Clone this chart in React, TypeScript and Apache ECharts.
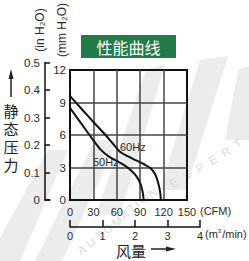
import React, { useEffect, useRef } from "react";
import * as echarts from "echarts";

// ---- data ----
const cfmMin = 0;
const cfmMax = 150;
const cfmStep = 30;
const mmMax = 12;
const mmStep = 3;
const inMax = 0.5;
const inStep = 0.1;
const m3Max = 4;
const m3Step = 1;

const flow60 = [0, 15, 30, 45, 55, 65, 75, 85, 95, 103, 109, 113, 115.5, 116.5];
const pres60 = [9.6, 8.4, 7.2, 6.05, 5.2, 4.4, 4.0, 3.65, 3.3, 2.95, 2.4, 1.6, 0.75, 0];
const flow50 = [0, 15, 30, 40, 50, 60, 70, 78, 85, 90, 93, 94.5];
const pres50 = [8.5, 7.0, 5.5, 4.6, 4.0, 3.6, 3.2, 2.75, 2.2, 1.55, 0.8, 0];

const seriesNames = ["60Hz", "50Hz"];
const titleText = "性能曲线";
const yTitleChars = ["静", "态", "压", "力"];
const xTitleText = "风量";
const watermark = "AUTOMATION EXPERT";

const FONT = "'Liberation Sans', Arial, sans-serif";
const CJK = "'Noto Sans CJK SC', sans-serif";
const TXT = "#2b2b2b";

export default function App() {
  const ref = useRef<HTMLDivElement>(null);
  useEffect(() => {
    if (!ref.current) return;
    const chart = echarts.init(ref.current, undefined, { renderer: "svg" });

    const wmPos = [
      [82, 250], [91, 243], [100, 236], [108, 229], [117, 222], [125, 215], [132, 209], [137, 204],
      [144, 199], [153, 193], [163, 188], [174, 183], [187, 176], [200, 168], [213, 160], [226, 152], [238, 144],
    ];
    const wmTexts = watermark.split("").map((ch, i) => ({
      type: "text",
      x: wmPos[i][0],
      y: wmPos[i][1],
      rotation: (32 * Math.PI) / 180,
      z: -10,
      silent: true,
      style: {
        text: ch,
        fill: "#dcdcdc",
        font: `12px ${FONT}`,
        align: "center",
        verticalAlign: "middle",
        textAlign: "center",
        textVerticalAlign: "middle",
      },
    }));

    const bands = [
      [[0, 261], [0, 238], [48, 150], [68, 150], [20, 261]],
      [[35, 261], [95, 140], [118, 140], [62, 261]],
      [[96, 215], [146, 70], [165, 64], [120, 215]],
      [[160, 190], [200, 60], [228, 56], [186, 190]],
      [[225, 140], [238, 70], [249, 66], [249, 140]],
    ].map((pts) => ({
      type: "polygon",
      z: -20,
      silent: true,
      shape: { points: pts },
      style: { fill: "#ececec" },
    }));

    const centered = { align: "center", verticalAlign: "middle", textAlign: "center", textVerticalAlign: "middle" };
    const leftMid = { align: "left", verticalAlign: "middle", textAlign: "left", textVerticalAlign: "middle" };

    const option: any = {
      animation: false,
      backgroundColor: "#ffffff",
      grid: [
        { left: 70, top: 70, width: 117, height: 130, show: true, borderColor: "#111", borderWidth: 2, backgroundColor: "transparent" },
        { left: 45, top: 62.5, width: 5, height: 137.5 },
        { left: 70, top: 219, width: 130, height: 8 },
      ],
      xAxis: [
        {
          gridIndex: 0, type: "value", min: cfmMin, max: cfmMax, interval: cfmStep,
          axisLine: { show: true, lineStyle: { color: "#111", width: 2 } },
          axisTick: { show: false },
          splitLine: { show: true, showMinLine: false, showMaxLine: false, lineStyle: { color: "#444", width: 1.5 } },
          axisLabel: { margin: 6, fontSize: 11, color: TXT, fontFamily: FONT, showMaxLabel: true, showMinLabel: true },
        },
        {
          gridIndex: 1, type: "value", min: 0, max: 1,
          axisLine: { show: true, lineStyle: { color: "#111", width: 1.5 } },
          axisTick: { show: false }, axisLabel: { show: false }, splitLine: { show: false },
        },
        {
          gridIndex: 2, type: "value", min: 0, max: m3Max, interval: m3Step, position: "bottom",
          axisLine: { show: true, lineStyle: { color: "#111", width: 1.5 } },
          axisTick: { show: true, inside: true, length: 7, lineStyle: { color: "#111", width: 1.5 } },
          axisLabel: { margin: 3, fontSize: 11, color: TXT, fontFamily: FONT },
          splitLine: { show: false },
        },
      ],
      yAxis: [
        {
          gridIndex: 0, type: "value", min: 0, max: mmMax, interval: mmStep, position: "left",
          axisLine: { show: true, lineStyle: { color: "#111", width: 2 } },
          axisTick: { show: false },
          splitLine: { show: true, showMinLine: false, showMaxLine: false, lineStyle: { color: "#444", width: 1.5 } },
          axisLabel: { margin: 4, fontSize: 11.5, color: TXT, fontFamily: FONT },
        },
        {
          gridIndex: 1, type: "value", min: 0, max: inMax, interval: inStep, position: "left",
          axisLine: { show: true, lineStyle: { color: "#111", width: 1.5 } },
          axisTick: { show: true, inside: true, length: 5, lineStyle: { color: "#111", width: 1.5 } },
          axisLabel: {
            margin: 5, fontSize: 11.5, color: TXT, fontFamily: FONT,
            formatter: (v: number) => (v === 0 ? "0" : v.toFixed(1)),
          },
          splitLine: { show: false },
        },
        { gridIndex: 2, type: "value", show: false, min: 0, max: 1 },
      ],
      series: [
        {
          name: seriesNames[0], type: "line", xAxisIndex: 0, yAxisIndex: 0,
          data: flow60.map((f, i) => [f, pres60[i]]),
          showSymbol: false, smooth: 0.3, z: 5,
          lineStyle: { color: "#111", width: 2 },
        },
        {
          name: seriesNames[1], type: "line", xAxisIndex: 0, yAxisIndex: 0,
          data: flow50.map((f, i) => [f, pres50[i]]),
          showSymbol: false, smooth: 0.3, z: 5,
          lineStyle: { color: "#111", width: 2 },
        },
      ],
      graphic: [
        ...bands,
        ...wmTexts,
        { type: "rect", shape: { x: 81, y: 35, width: 95, height: 23 }, style: { fill: "#237a4b" } },
        { type: "text", x: 128.5, y: 46.5, style: { text: titleText, fill: "#ffffff", font: `16px ${CJK}`, ...centered } },
        { type: "text", x: 40, y: 30, rotation: Math.PI / 2, style: { text: "(in H₂O)", fill: TXT, font: `12px ${FONT}`, ...centered } },
        { type: "text", x: 62, y: 30, rotation: Math.PI / 2, style: { text: "(mm H₂O)", fill: TXT, font: `12px ${FONT}`, ...centered } },
        ...yTitleChars.map((ch, i) => ({
          type: "text", x: 11, y: 110 + i * 18,
          style: { text: ch, fill: "#222", font: `15px ${CJK}`, lineHeight: 16, ...centered },
        })),
        { type: "line", shape: { x1: 11, y1: 97, x2: 11, y2: 77 }, style: { stroke: "#222", lineWidth: 1.5 } },
        { type: "polygon", shape: { points: [[11, 69], [8.5, 79], [13.5, 79]] }, style: { fill: "#222" } },
        { type: "text", x: 131, y: 250, style: { text: xTitleText, fill: "#222", font: `15px ${CJK}`, lineHeight: 16, ...centered } },
        { type: "line", shape: { x1: 151, y1: 249, x2: 168, y2: 249 }, style: { stroke: "#222", lineWidth: 1.5 } },
        { type: "polygon", shape: { points: [[176, 249], [166, 246.5], [166, 251.5]] }, style: { fill: "#222" } },
        { type: "text", x: 120, y: 147, style: { text: seriesNames[0], fill: TXT, font: `11px ${FONT}`, ...leftMid } },
        { type: "text", x: 93, y: 161.5, style: { text: seriesNames[1], fill: TXT, font: `11px ${FONT}`, ...leftMid } },
        { type: "text", x: 200, y: 211, style: { text: "(CFM)", fill: TXT, font: `11px ${FONT}`, ...leftMid } },
        {
          type: "text", x: 205, y: 234,
          style: {
            text: "(m{s|3}/min)", fill: TXT, font: `11px ${FONT}`, ...leftMid,
            rich: { s: { fontSize: 6, fontFamily: FONT, fill: TXT, padding: [0, 1, 6, 0] } },
          },
        },
      ],
    };
    chart.setOption(option);
    return () => chart.dispose();
  }, []);
  return <div ref={ref} style={{ width: 249, height: 261, position: "absolute", left: 0, top: 0 }} />;
}
